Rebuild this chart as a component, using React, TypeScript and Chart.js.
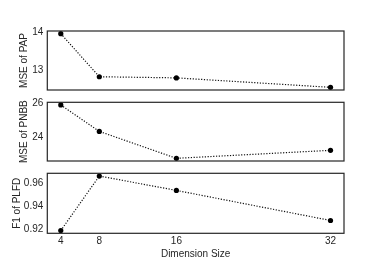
import React, { useEffect, useRef } from "react";
import { Chart, registerables } from "chart.js";

Chart.register(...registerables);

const dimensions = [4, 8, 16, 32];
const xTickValues = [4, 8, 16, 32];
const xAxisTitle = "Dimension Size";

const papMse = [13.97, 12.83, 12.8, 12.55];
const pnbbMse = [25.92, 24.37, 22.79, 23.26];
const plfdF1 = [0.9191, 0.9661, 0.9537, 0.9278];

const papTicks = [13, 14];
const pnbbTicks = [24, 26];
const plfdTicks = [0.92, 0.94, 0.96];

const papLabel = "MSE of PAP";
const pnbbLabel = "MSE of PNBB";
const plfdLabel = "F1 of PLFD";

const W = 382;
const H = 262;
const FONT = "'Liberation Sans', Arial, sans-serif";
const INK = "#262626";

const boxPlugin = {
  id: "box",
  afterDraw(chart: any) {
    const { ctx, chartArea } = chart;
    ctx.save();
    ctx.strokeStyle = INK;
    ctx.lineWidth = 1.2;
    ctx.strokeRect(chartArea.left, chartArea.top, chartArea.right - chartArea.left, chartArea.bottom - chartArea.top);
    ctx.restore();
  },
};

function range(vals: number[]) {
  const lo = Math.min(...vals);
  const hi = Math.max(...vals);
  const m = (hi - lo) * 0.05;
  return [lo - m, hi + m];
}

type Panel = {
  values: number[];
  ticks: number[];
  label: string;
  top: number;
  bottom: number;
  showX: boolean;
  titlePad: number;
  fmt: (v: number) => string;
};

const panels: Panel[] = [
  { values: papMse, ticks: papTicks, label: papLabel, top: 31, bottom: 90, showX: false, titlePad: 18, fmt: (v) => String(v) },
  { values: pnbbMse, ticks: pnbbTicks, label: pnbbLabel, top: 102.3, bottom: 161, showX: false, titlePad: 18, fmt: (v) => String(v) },
  { values: plfdF1, ticks: plfdTicks, label: plfdLabel, top: 173.3, bottom: 233.3, showX: true, titlePad: 11, fmt: (v) => v.toFixed(2) },
];

function makeChart(canvas: HTMLCanvasElement, p: Panel) {
  const [ymin, ymax] = range(p.values);
  const [xmin, xmax] = range(dimensions);
  const xAxisHeight = p.showX ? 28.7 : 0;
  return new Chart(canvas, {
    type: "line",
    data: {
      datasets: [
        {
          data: dimensions.map((d, i) => ({ x: d, y: p.values[i] })),
          borderColor: "#111",
          borderWidth: 1.2,
          borderDash: [1.2, 1.6],
          pointRadius: 2.6,
          pointBackgroundColor: "#000",
          pointBorderColor: "#000",
          pointBorderWidth: 0,
          tension: 0,
          clip: false,
        } as any,
      ],
    },
    options: {
      animation: false,
      responsive: false,
      events: [],
      layout: {
        autoPadding: false,
        padding: {
          left: 0,
          right: 38,
          top: p.top,
          bottom: H - p.bottom - xAxisHeight,
        },
      },
      plugins: { legend: { display: false }, tooltip: { enabled: false } },
      scales: {
        x: {
          type: "linear",
          display: p.showX,
          min: xmin,
          max: xmax,
          grid: { display: false, drawTicks: false },
          border: { display: false },
          afterBuildTicks: (s: any) => {
            s.ticks = xTickValues.map((v) => ({ value: v }));
          },
          afterFit: (s: any) => {
            s.height = xAxisHeight;
          },
          ticks: {
            color: INK,
            font: { family: FONT, size: 10 },
            padding: 2,
            maxRotation: 0,
            autoSkip: false,
            callback: (v: any) => String(v),
          },
          title: {
            display: true,
            text: xAxisTitle,
            color: INK,
            font: { family: FONT, size: 10 },
            padding: { top: 0, bottom: 2 },
          },
        },
        y: {
          type: "linear",
          min: ymin,
          max: ymax,
          grid: { display: false, drawTicks: false },
          border: { display: false },
          afterBuildTicks: (s: any) => {
            s.ticks = p.ticks.map((v) => ({ value: v }));
          },
          afterFit: (s: any) => {
            s.width = 47.3;
          },
          ticks: {
            color: INK,
            font: { family: FONT, size: 10 },
            padding: 4,
            autoSkip: false,
            callback: (v: any) => p.fmt(Number(v)),
          },
          title: {
            display: true,
            text: p.label,
            color: INK,
            font: { family: FONT, size: 10 },
            padding: { top: p.titlePad, bottom: 0 },
          },
        },
      },
    } as any,
    plugins: [boxPlugin],
  });
}

export default function App() {
  const refs = [useRef<HTMLCanvasElement>(null), useRef<HTMLCanvasElement>(null), useRef<HTMLCanvasElement>(null)];
  useEffect(() => {
    const charts = panels.map((p, i) => makeChart(refs[i].current as HTMLCanvasElement, p));
    return () => charts.forEach((c) => c.destroy());
  }, []);
  return (
    <div style={{ position: "fixed", left: 0, top: 0, width: W, height: H, background: "#fff" }}>
      {panels.map((p, i) => (
        <canvas
          key={i}
          ref={refs[i]}
          width={W}
          height={H}
          style={{ position: "absolute", left: 0, top: 0, width: W, height: H }}
        />
      ))}
    </div>
  );
}
